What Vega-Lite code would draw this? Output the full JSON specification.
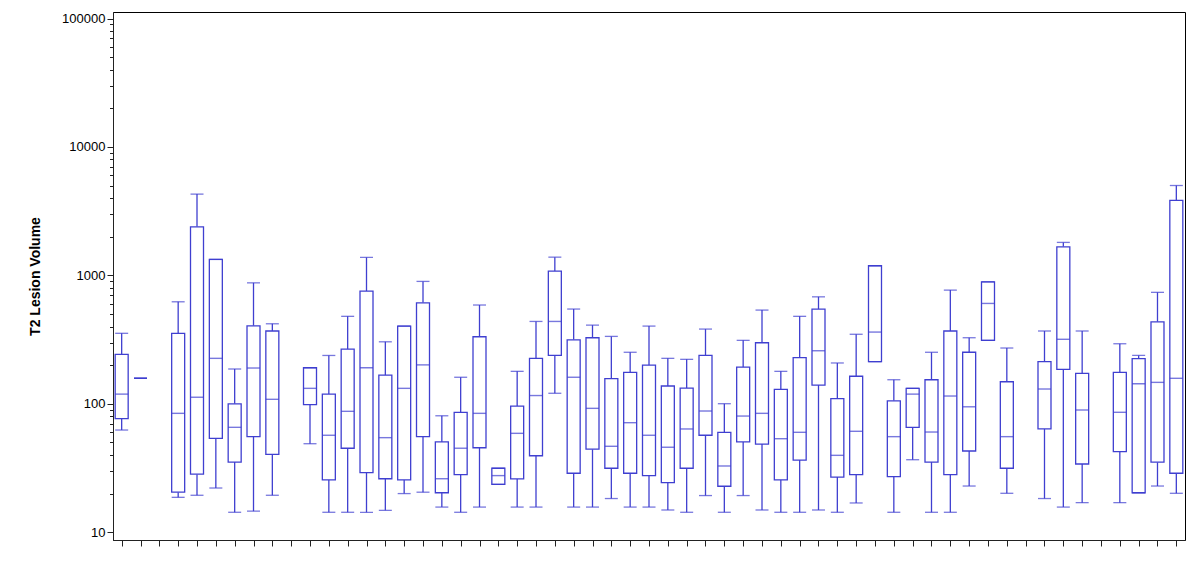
{
  "$schema": "https://vega.github.io/schema/vega-lite/v6.json",
  "width": 1072,
  "height": 528,
  "autosize": {"type": "none"},
  "padding": {"left": 113, "top": 12, "right": 15, "bottom": 34},
  "background": "white",
  "config": {
    "view": {"stroke": "#000000", "strokeWidth": 1},
    "axis": {"labelFont": "Liberation Sans", "titleFont": "Liberation Sans", "grid": false, "domainColor": "#222222", "tickColor": "#222222", "labelColor": "#000000", "titleColor": "#000000"}
  },
  "data": {"values": [
    {"c": 1, "lo": 62.5, "q1": 76.6, "med": 119, "q3": 243, "hi": 354},
    {"c": 2, "lo": 158, "q1": 158, "med": 158, "q3": 158, "hi": 158},
    {"c": 4, "lo": 18.7, "q1": 20.5, "med": 84.3, "q3": 354, "hi": 623},
    {"c": 5, "lo": 19.4, "q1": 28.3, "med": 112.5, "q3": 2388, "hi": 4295},
    {"c": 6, "lo": 22.1, "q1": 53.9, "med": 226, "q3": 1331, "hi": 1331},
    {"c": 7, "lo": 14.3, "q1": 35.2, "med": 65.6, "q3": 100, "hi": 186.7},
    {"c": 8, "lo": 14.6, "q1": 55.5, "med": 190, "q3": 405, "hi": 875},
    {"c": 9, "lo": 19.4, "q1": 40.4, "med": 108.4, "q3": 369, "hi": 420},
    {"c": 11, "lo": 48.9, "q1": 98.4, "med": 132, "q3": 191, "hi": 191},
    {"c": 12, "lo": 14.3, "q1": 25.6, "med": 56.9, "q3": 119, "hi": 238},
    {"c": 13, "lo": 14.3, "q1": 45.1, "med": 87.4, "q3": 267, "hi": 480},
    {"c": 14, "lo": 14.3, "q1": 29.1, "med": 191, "q3": 755, "hi": 1380},
    {"c": 15, "lo": 14.8, "q1": 26.1, "med": 54.5, "q3": 167, "hi": 304},
    {"c": 16, "lo": 20.0, "q1": 25.6, "med": 132, "q3": 403, "hi": 403},
    {"c": 17, "lo": 20.5, "q1": 55.5, "med": 201, "q3": 612, "hi": 898},
    {"c": 18, "lo": 15.7, "q1": 20.3, "med": 26.1, "q3": 50.5, "hi": 80.7},
    {"c": 19, "lo": 14.3, "q1": 28.1, "med": 45.1, "q3": 85.9, "hi": 161},
    {"c": 20, "lo": 15.7, "q1": 45.5, "med": 84.3, "q3": 333, "hi": 588},
    {"c": 21, "lo": 23.6, "q1": 23.6, "med": 27.6, "q3": 31.5, "hi": 31.5},
    {"c": 22, "lo": 15.7, "q1": 26.0, "med": 58.9, "q3": 96.1, "hi": 179},
    {"c": 23, "lo": 15.7, "q1": 39.4, "med": 116, "q3": 226, "hi": 438},
    {"c": 24, "lo": 120.8, "q1": 238, "med": 438, "q3": 1079, "hi": 1387},
    {"c": 25, "lo": 15.7, "q1": 28.8, "med": 161, "q3": 315, "hi": 547},
    {"c": 26, "lo": 15.7, "q1": 44.3, "med": 92.2, "q3": 327, "hi": 410},
    {"c": 27, "lo": 18.3, "q1": 31.5, "med": 46.7, "q3": 157, "hi": 335},
    {"c": 28, "lo": 15.7, "q1": 28.8, "med": 71.3, "q3": 176, "hi": 252},
    {"c": 29, "lo": 15.7, "q1": 27.6, "med": 56.9, "q3": 200, "hi": 403},
    {"c": 30, "lo": 14.9, "q1": 24.3, "med": 45.9, "q3": 137.6, "hi": 226},
    {"c": 31, "lo": 14.3, "q1": 31.5, "med": 63.7, "q3": 132.7, "hi": 222},
    {"c": 32, "lo": 19.3, "q1": 56.9, "med": 87.9, "q3": 238, "hi": 382},
    {"c": 33, "lo": 14.3, "q1": 22.8, "med": 32.8, "q3": 60, "hi": 100.2},
    {"c": 34, "lo": 19.3, "q1": 50.5, "med": 80.3, "q3": 193, "hi": 312},
    {"c": 35, "lo": 14.9, "q1": 48.6, "med": 84.3, "q3": 299, "hi": 537},
    {"c": 36, "lo": 14.3, "q1": 25.6, "med": 53.5, "q3": 129.7, "hi": 179},
    {"c": 37, "lo": 14.3, "q1": 36.5, "med": 60, "q3": 228.6, "hi": 480},
    {"c": 38, "lo": 14.9, "q1": 140, "med": 259, "q3": 547, "hi": 681},
    {"c": 39, "lo": 14.3, "q1": 26.9, "med": 39.7, "q3": 109.6, "hi": 208},
    {"c": 40, "lo": 16.9, "q1": 28.1, "med": 61.1, "q3": 164, "hi": 348},
    {"c": 41, "lo": 213, "q1": 213, "med": 362, "q3": 1189, "hi": 1189},
    {"c": 42, "lo": 14.3, "q1": 27.1, "med": 55.5, "q3": 105.6, "hi": 154},
    {"c": 43, "lo": 36.7, "q1": 65.6, "med": 119, "q3": 132, "hi": 132},
    {"c": 44, "lo": 14.3, "q1": 35.2, "med": 60.3, "q3": 154, "hi": 252},
    {"c": 45, "lo": 14.3, "q1": 28.1, "med": 115, "q3": 369, "hi": 768},
    {"c": 46, "lo": 22.9, "q1": 42.9, "med": 94.8, "q3": 252, "hi": 327},
    {"c": 47, "lo": 312, "q1": 312, "med": 605, "q3": 891, "hi": 891},
    {"c": 48, "lo": 20.1, "q1": 31.5, "med": 55.5, "q3": 148.6, "hi": 272},
    {"c": 50, "lo": 18.3, "q1": 63.7, "med": 130.4, "q3": 213, "hi": 369},
    {"c": 51, "lo": 15.7, "q1": 185.6, "med": 318, "q3": 1670, "hi": 1807},
    {"c": 52, "lo": 17.0, "q1": 34.0, "med": 89.5, "q3": 172.6, "hi": 369},
    {"c": 54, "lo": 17.0, "q1": 42.4, "med": 85.9, "q3": 176, "hi": 293.6},
    {"c": 55, "lo": 20.3, "q1": 20.3, "med": 143.4, "q3": 224.5, "hi": 238},
    {"c": 56, "lo": 22.9, "q1": 35.1, "med": 146.9, "q3": 435, "hi": 738},
    {"c": 57, "lo": 20.1, "q1": 28.8, "med": 158, "q3": 3838, "hi": 5012}
  ]},
  "encoding": {
    "x": {
      "field": "c", "type": "quantitative",
      "scale": {"domain": [0.805, 57.195], "nice": false, "zero": false},
      "axis": {
        "values": [1,2,3,4,5,6,7,8,9,10,11,12,13,14,15,16,17,18,19,20,21,22,23,24,25,26,27,28,29,30,31,32,33,34,35,36,37,38,39,40,41,42,43,44,45,46,47,48,49,50,51,52,53,54,55,56,57],
        "labels": false, "title": null, "tickSize": 6, "domain": true
      }
    }
  },
  "layer": [
    {
      "mark": {"type": "rule", "color": "#3f3fd0", "strokeWidth": 1.3},
      "encoding": {
        "y": {
          "field": "lo", "type": "quantitative",
          "scale": {"type": "log", "domain": [8.7, 112500], "nice": false},
          "axis": {
            "values": [10, 100, 1000, 10000, 100000], "format": "d",
            "title": "T2 Lesion Volume", "titleFontWeight": "bold", "titleFontSize": 14, "titlePadding": 19,
            "labelFontSize": 13, "labelPadding": 2, "tickSize": 6, "orient": "left"
          }
        },
        "y2": {"field": "q1"}
      }
    },
    {
      "mark": {"type": "rule", "color": "#3f3fd0", "strokeWidth": 1.3},
      "encoding": {
        "y": {
          "field": "q3", "type": "quantitative",
          "scale": {"type": "log", "domain": [8.7, 112500], "nice": false},
          "axis": {
            "values": [20,30,40,50,60,70,80,90,200,300,400,500,600,700,800,900,2000,3000,4000,5000,6000,7000,8000,9000,20000,30000,40000,50000,60000,70000,80000,90000],
            "labels": false, "title": null, "tickSize": 3.5, "domain": false, "orient": "left"
          }
        },
        "y2": {"field": "hi"}
      }
    },
    {
      "mark": {"type": "bar", "fill": "white", "stroke": "#3f3fd0", "strokeWidth": 1.3, "size": 13, "orient": "vertical"},
      "encoding": {
        "y": {"field": "q1", "type": "quantitative", "scale": {"type": "log", "domain": [8.7, 112500], "nice": false}, "axis": null},
        "y2": {"field": "q3"}
      }
    },
    {
      "mark": {"type": "tick", "orient": "horizontal", "color": "#3f3fd0", "size": 13, "thickness": 1.4},
      "encoding": {
        "y": {"field": "med", "type": "quantitative", "scale": {"type": "log", "domain": [8.7, 112500], "nice": false}, "axis": null}
      }
    },
    {
      "mark": {"type": "tick", "orient": "horizontal", "color": "#3f3fd0", "size": 13, "thickness": 1.3},
      "encoding": {
        "y": {"field": "lo", "type": "quantitative", "scale": {"type": "log", "domain": [8.7, 112500], "nice": false}, "axis": null}
      }
    },
    {
      "mark": {"type": "tick", "orient": "horizontal", "color": "#3f3fd0", "size": 13, "thickness": 1.3},
      "encoding": {
        "y": {"field": "hi", "type": "quantitative", "scale": {"type": "log", "domain": [8.7, 112500], "nice": false}, "axis": null}
      }
    }
  ],
  "resolve": {"axis": {"y": "independent"}}
}
